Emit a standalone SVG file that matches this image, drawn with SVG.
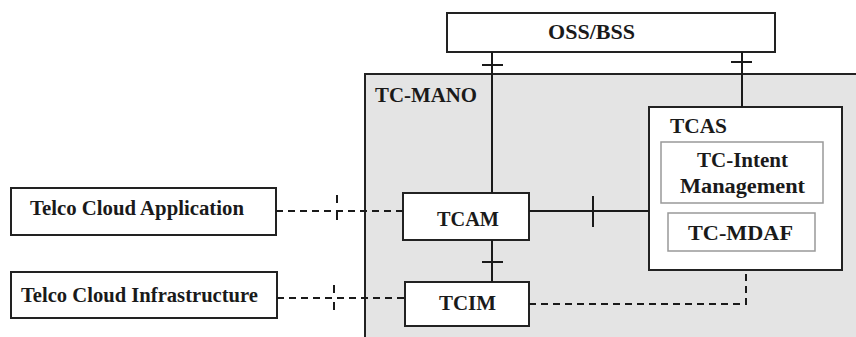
<svg xmlns="http://www.w3.org/2000/svg" width="856" height="337" viewBox="0 0 856 337" font-family="Liberation Serif, DejaVu Serif, serif" font-weight="bold" font-size="20">
<style>
.box{fill:#fff;stroke:#222;stroke-width:2}
.inner{fill:#fff;stroke:#999;stroke-width:1.5}
.c{text-anchor:middle}
.ln{stroke:#1a1a1a;stroke-width:2;fill:none}
.ds{stroke:#1a1a1a;stroke-width:2;fill:none;stroke-dasharray:7 5}
</style>
<rect width="856" height="337" fill="#fff"/>
<g id="tc-mano">
<rect x="365" y="74" width="495" height="270" fill="#e4e4e4" stroke="#222" stroke-width="2"/>
<text x="375" y="102" fill="#1a1a1a" textLength="102" lengthAdjust="spacingAndGlyphs">TC-MANO</text>
</g>
<g id="oss-bss">
<rect class="box" x="447" y="13" width="328" height="39"/>
<text class="c" x="591.5" y="39" fill="#1a1a1a" textLength="87" lengthAdjust="spacingAndGlyphs">OSS/BSS</text>
</g>
<g id="tcas">
<rect class="box" x="649" y="107" width="193" height="163"/>
<text x="670" y="133" fill="#1a1a1a" textLength="57" lengthAdjust="spacingAndGlyphs">TCAS</text>
</g>
<g id="tc-intent">
<rect class="inner" x="661" y="142" width="162" height="61"/>
<text class="c" x="742.5" y="167" fill="#1a1a1a" textLength="91" lengthAdjust="spacingAndGlyphs">TC-Intent</text>
<text class="c" x="742.5" y="193" fill="#1a1a1a" textLength="125" lengthAdjust="spacingAndGlyphs">Management</text>
</g>
<g id="tc-mdaf">
<rect class="inner" x="668" y="213" width="147" height="38"/>
<text class="c" x="740.5" y="240" fill="#1a1a1a" textLength="105" lengthAdjust="spacingAndGlyphs">TC-MDAF</text>
</g>
<g id="tcam">
<rect class="box" x="403" y="193" width="126" height="47"/>
<text class="c" x="468" y="226" fill="#1a1a1a" textLength="62" lengthAdjust="spacingAndGlyphs">TCAM</text>
</g>
<g id="tcim">
<rect class="box" x="405" y="282" width="124" height="44"/>
<text class="c" x="467.5" y="310" fill="#1a1a1a" textLength="57" lengthAdjust="spacingAndGlyphs">TCIM</text>
</g>
<g id="telco-cloud-application">
<rect class="box" x="11" y="188" width="265" height="47"/>
<text x="30" y="215" fill="#1a1a1a" textLength="214" lengthAdjust="spacingAndGlyphs">Telco Cloud Application</text>
</g>
<g id="telco-cloud-infrastructure">
<rect class="box" x="11" y="272" width="266" height="46"/>
<text x="21" y="302" fill="#1a1a1a" textLength="237" lengthAdjust="spacingAndGlyphs">Telco Cloud Infrastructure</text>
</g>
<g id="connectors">
<line class="ln" x1="492" y1="52" x2="492" y2="193"/>
<line class="ln" x1="482" y1="65" x2="503" y2="65"/>
<line class="ln" x1="742" y1="52" x2="742" y2="107"/>
<line class="ln" x1="731" y1="62" x2="752" y2="62"/>
<line class="ln" x1="529" y1="211" x2="649" y2="211"/>
<line class="ln" x1="593" y1="196" x2="593" y2="227"/>
<line class="ln" x1="492" y1="240" x2="492" y2="282"/>
<line class="ln" x1="482" y1="262" x2="503" y2="262"/>
<polyline class="ds" points="529,304 746,304 746,270"/>
<line class="ds" x1="276" y1="211" x2="403" y2="211"/>
<line class="ln" x1="337" y1="195" x2="337" y2="203"/>
<line class="ln" x1="337" y1="212" x2="337" y2="220"/>
<line class="ds" x1="277" y1="298" x2="405" y2="298"/>
<line class="ln" x1="334" y1="285" x2="334" y2="293"/>
<line class="ln" x1="334" y1="302" x2="334" y2="310"/>
</g>
</svg>
